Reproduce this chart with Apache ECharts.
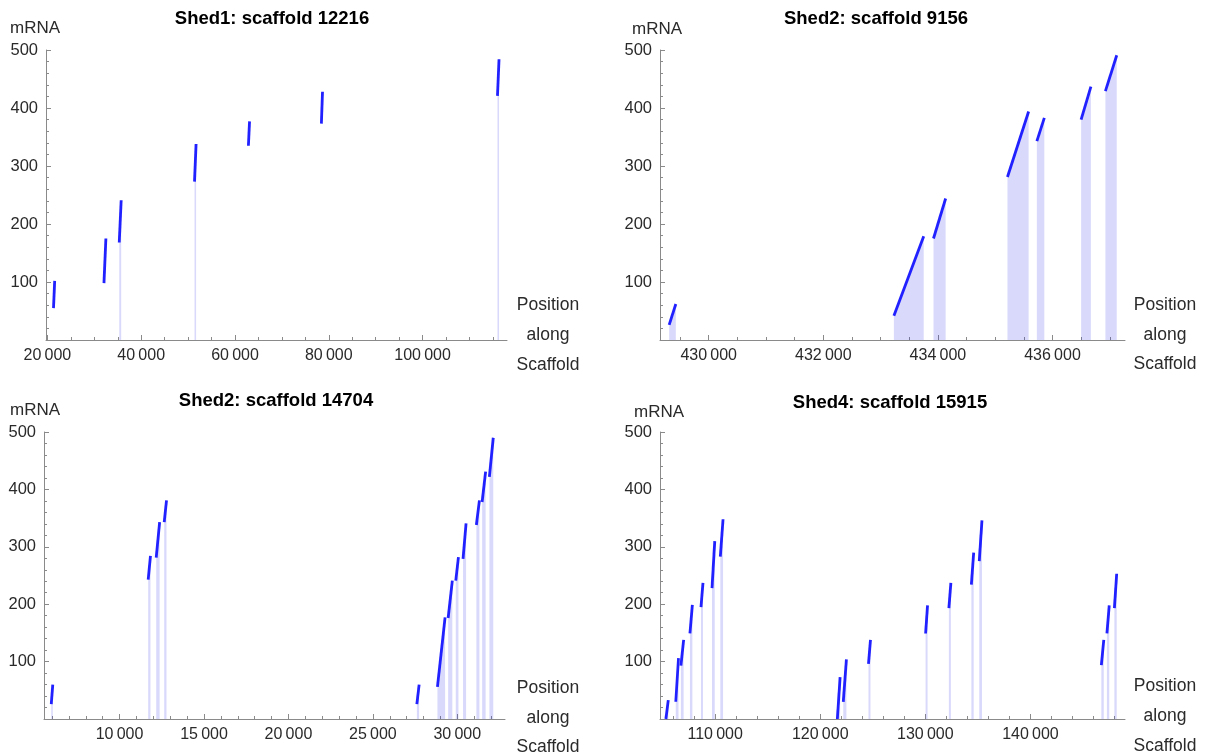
<!DOCTYPE html>
<html>
<head>
<meta charset="utf-8">
<script src="https://cdn.jsdelivr.net/npm/echarts@6/dist/echarts.min.js"></script>
<style>
  html, body { margin: 0; padding: 0; background: #fff; }
  #chart { width: 1213px; height: 756px; }
</style>
</head>
<body>
<div id="chart"></div>
<script>
// ---------------- DATA ----------------
const titles = ["Shed1: scaffold 12216", "Shed2: scaffold 9156", "Shed2: scaffold 14704", "Shed4: scaffold 15915"];
const yLabel = "mRNA";
const xLabelLines = ["Position", "along", "Scaffold"];

// Panel 1 : Shed1 scaffold 12216
const p1X0 = [21300, 32060, 35320, 51370, 62860, 78420, 115970];
const p1X1 = [21550, 32470, 35730, 51700, 63100, 78660, 116300];
const p1Y0 = [55, 98, 168, 273, 335, 373, 421];
const p1Y1 = [102, 175, 241, 338, 377, 428, 484];
const p1Filled = [false, false, true, true, false, false, true];

// Panel 2 : Shed2 scaffold 9156
const p2X0 = [429310, 433232, 433923, 435214, 435727, 436499, 436923];
const p2X1 = [429426, 433752, 434135, 435583, 435857, 436670, 437121];
const p2Y0 = [26, 42, 175, 281, 343, 380, 429];
const p2Y1 = [62, 179, 244, 394, 383, 437, 491];
const p2Filled = [true, true, true, true, true, true, true];

// Panel 3 : Shed2 scaffold 14704
const p3X0 = [5955, 11695, 12170, 12644, 27605, 28825, 29458, 29910, 30340, 31130, 31470, 31900];
const p3X1 = [6045, 11830, 12373, 12780, 27740, 29277, 29706, 30068, 30520, 31310, 31677, 32130];
const p3Y0 = [26, 243, 281, 343, 26, 56, 176, 241, 279, 338, 378, 422];
const p3Y1 = [60, 284, 343, 381, 60, 177, 241, 282, 341, 381, 431, 490];
const p3Filled = [true, true, true, true, true, true, true, true, true, true, true, true];

// Panel 4 : Shed4 scaffold 15915
const p4X0 = [105310, 106250, 106740, 107600, 108650, 109700, 110490, 121625, 122190, 124590, 130025, 132240, 134380, 135130, 146750, 147280, 147990];
const p4X1 = [105540, 106510, 107000, 107830, 108840, 109960, 110750, 121890, 122490, 124780, 130210, 132430, 134600, 135390, 146980, 147500, 148210];
const p4Y0 = [0, 30, 93, 149, 195, 228, 283, 0, 30, 96, 149, 193, 234, 275, 94, 149, 193];
const p4Y1 = [33, 106, 138, 199, 237, 310, 348, 73, 104, 138, 198, 237, 290, 346, 138, 198, 253];
const p4Filled = [true, true, true, true, true, true, true, true, true, true, true, true, true, true, true, true, true];

// Axis ranges and tick values
const xRanges = [[19700, 118000], [429150, 437265], [5525, 32825], [104750, 149000]];
const xMajorTicks = [
  [20000, 40000, 60000, 80000, 100000],
  [430000, 432000, 434000, 436000],
  [10000, 15000, 20000, 25000, 30000],
  [110000, 120000, 130000, 140000]
];
const xMinorSteps = [5000, 500, 1000, 2000];
const yMin = 0, yMax = 500, yStep = 100;

// ---------------- LAYOUT ----------------
const grids = [
  { left: 46, top: 50, width: 461, height: 290 },
  { left: 660, top: 50, width: 465, height: 290 },
  { left: 44, top: 432, width: 461, height: 287 },
  { left: 660, top: 432, width: 465, height: 287 }
];
const titlePos = [[272, 19], [876, 19], [276, 401], [890, 403]];
const mrnaPos = [[35, 28], [657, 29], [35, 410], [659, 412]];
const posLabelX = [548, 1165, 548, 1165];
const posLabelY = [[305, 335, 365], [305, 335, 364], [688, 718, 747], [686, 716, 746]];

const panels = [
  { x0: p1X0, x1: p1X1, y0: p1Y0, y1: p1Y1, f: p1Filled },
  { x0: p2X0, x1: p2X1, y0: p2Y0, y1: p2Y1, f: p2Filled },
  { x0: p3X0, x1: p3X1, y0: p3Y0, y1: p3Y1, f: p3Filled },
  { x0: p4X0, x1: p4X1, y0: p4Y0, y1: p4Y1, f: p4Filled }
];

const LINE = '#2121ff';
const FILL = 'rgba(40,40,240,0.25)';
const AXIS = '#8a8a8a';
const TXT = '#2a2a2a';
const FONT = '"Liberation Sans", Arial, sans-serif';

function fmt(v) {
  const s = String(v);
  return s.length > 4 ? s.replace(/\B(?=(\d{3})+(?!\d))/g, '\u2009') : s;
}
function minorList(range, step, majors) {
  const out = [];
  let v = Math.ceil(range[0] / step) * step;
  for (; v <= range[1]; v += step) if (majors.indexOf(v) < 0) out.push(v);
  return out;
}

const xAxes = [], yAxes = [], series = [], gridOpts = [];
grids.forEach((g, i) => {
  gridOpts.push(Object.assign({ containLabel: false }, g));
  xAxes.push({
    type: 'value', gridIndex: i, min: xRanges[i][0], max: xRanges[i][1], position: 'bottom',
    axisLine: { show: true, onZero: false, lineStyle: { color: AXIS, width: 1 } },
    axisTick: { show: true, inside: true, length: 5, lineStyle: { color: AXIS }, customValues: xMajorTicks[i] },
    axisLabel: { show: true, margin: 8, color: TXT, fontSize: 16, fontFamily: FONT,
      customValues: xMajorTicks[i], formatter: v => fmt(v) },
    splitLine: { show: false }
  });
  xAxes.push({
    type: 'value', gridIndex: i, min: xRanges[i][0], max: xRanges[i][1], position: 'bottom',
    axisLine: { show: false },
    axisTick: { show: true, inside: true, length: 3, lineStyle: { color: AXIS },
      customValues: minorList(xRanges[i], xMinorSteps[i], xMajorTicks[i]) },
    axisLabel: { show: false },
    splitLine: { show: false }
  });
  yAxes.push({
    type: 'value', gridIndex: i, min: yMin, max: yMax, interval: yStep,
    axisLine: { show: true, lineStyle: { color: AXIS, width: 1 } },
    axisTick: { show: true, inside: true, length: 5, lineStyle: { color: AXIS } },
    minorTick: { show: true, splitNumber: 5, length: 3, lineStyle: { color: AXIS } },
    axisLabel: { margin: 8, color: TXT, fontSize: 16.5, fontFamily: FONT,
      formatter: v => (v === 0 ? '' : String(v)) },
    splitLine: { show: false }, minorSplitLine: { show: false }
  });
  const p = panels[i];
  for (let k = 0; k < p.x0.length; k++) {
    const s = {
      type: 'line', xAxisIndex: 2 * i, yAxisIndex: i, symbol: 'none', silent: true,
      data: [[p.x0[k], p.y0[k]], [p.x1[k], p.y1[k]]],
      lineStyle: { color: LINE, width: 2.8 },
      animation: false, z: 3
    };
    if (p.f[k]) s.areaStyle = { color: FILL, origin: 'start' };
    series.push(s);
  }
});

const graphics = [];
titles.forEach((t, i) => {
  graphics.push({ type: 'text', x: titlePos[i][0], y: titlePos[i][1],
    style: { text: t, fill: '#000', font: 'bold 18.5px ' + FONT, align: 'center', verticalAlign: 'middle' } });
  graphics.push({ type: 'text', x: mrnaPos[i][0], y: mrnaPos[i][1],
    style: { text: yLabel, fill: TXT, font: '17px ' + FONT, align: 'center', verticalAlign: 'middle' } });
  xLabelLines.forEach((ln, j) => {
    graphics.push({ type: 'text', x: posLabelX[i], y: posLabelY[i][j],
      style: { text: ln, fill: TXT, font: '17.5px ' + FONT, align: 'center', verticalAlign: 'middle' } });
  });
});

const chart = echarts.init(document.getElementById('chart'), null, { renderer: 'canvas' });
chart.setOption({
  animation: false,
  backgroundColor: '#fff',
  grid: gridOpts,
  xAxis: xAxes,
  yAxis: yAxes,
  series: series,
  graphic: graphics
});
</script>
</body>
</html>
